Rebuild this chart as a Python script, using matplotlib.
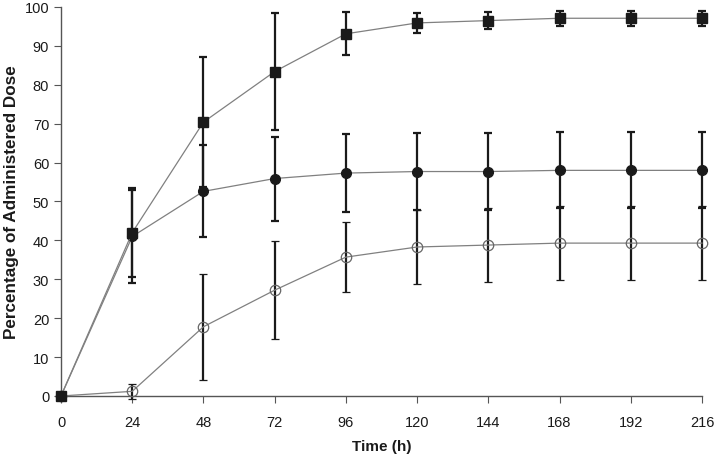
import matplotlib
matplotlib.use("Agg")
from matplotlib import pyplot as plt

plt.rcParams['font.family'] = ['Liberation Sans', 'DejaVu Sans']

# time points (h)
time_h = [0, 24, 48, 72, 96, 120, 144, 168, 192, 216]

# filled squares
sq_mean = [0, 42.0, 70.4, 83.4, 93.1, 95.9, 96.5, 97.1, 97.1, 97.1]
sq_err = [0, 11.5, 16.7, 15.0, 5.5, 2.6, 2.2, 1.9, 1.9, 1.9]

# filled circles
ci_mean = [0, 41.0, 52.6, 55.9, 57.3, 57.7, 57.7, 58.0, 58.0, 58.0]
ci_err = [0, 12.0, 11.8, 10.8, 10.1, 10.0, 9.8, 9.8, 9.8, 9.8]

# open circles
oc_mean = [0, 1.2, 17.8, 27.2, 35.7, 38.3, 38.8, 39.3, 39.3, 39.3]
oc_err = [0, 1.9, 13.6, 12.6, 9.0, 9.5, 9.5, 9.6, 9.6, 9.6]

fig = plt.figure(figsize=(7.16, 4.56), dpi=100)
ax = fig.add_axes([0.0852, 0.1294, 0.8952, 0.8531])

line_c = '#808080'
err_kw = dict(ecolor='#1a1a1a', elinewidth=1.6, capsize=2.6, capthick=1.6)

ax.errorbar(time_h, oc_mean, yerr=oc_err, color=line_c, lw=0.9, marker='o', ms=7.5,
            mfc='none', mec='#666666', mew=0.9, zorder=3, clip_on=False, **err_kw)
ax.errorbar(time_h, ci_mean, yerr=ci_err, color=line_c, lw=0.9, marker='o', ms=7,
            mfc='#1a1a1a', mec='#1a1a1a', zorder=4, clip_on=False, **err_kw)
ax.errorbar(time_h, sq_mean, yerr=sq_err, color=line_c, lw=0.9, marker='s', ms=6.5,
            mfc='#1a1a1a', mec='#1a1a1a', zorder=5, clip_on=False, **err_kw)

ax.set_xlim(0, 216)
ax.set_ylim(0, 100)
ax.set_xticks(time_h)
ax.set_yticks(range(0, 101, 10))

for s in ['top', 'right']:
    ax.spines[s].set_visible(False)
for s in ['left', 'bottom']:
    ax.spines[s].set_color('#555555')
    ax.spines[s].set_linewidth(1.0)

ax.tick_params(axis='both', colors='#555555', labelcolor='#1a1a1a', labelsize=10.5, length=5)
ax.tick_params(axis='x', pad=9)

ax.set_xlabel('Time (h)', fontsize=11, fontweight='bold', color='#1a1a1a', labelpad=7)
ax.set_ylabel('Percentage of Administered Dose', fontsize=12.3, fontweight='bold',
              color='#1a1a1a', labelpad=4)

fig.savefig('out.png', dpi=100)
